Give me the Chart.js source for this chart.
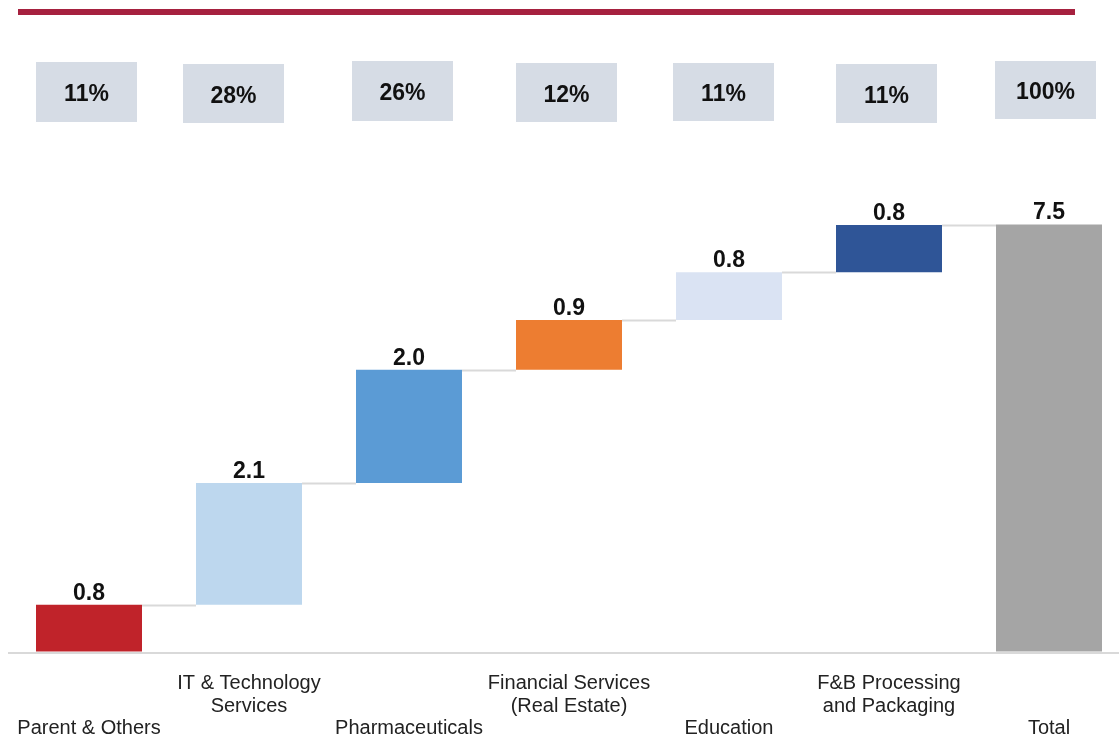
<!DOCTYPE html>
<html>
<head>
<meta charset="utf-8">
<script src="https://cdn.jsdelivr.net/npm/chart.js@4"></script>
<style>
  html, body { margin: 0; padding: 0; background: #fff; overflow: hidden; }
  #wrap { position: relative; width: 1119px; height: 738px; }
</style>
</head>
<body>
<div id="wrap"><canvas id="chart"></canvas></div>
<script>
// categories, staggered onto three label lines like the original
const categories = [
    ['', '', 'Parent & Others'],
    ['IT & Technology', 'Services', ''],
    ['', '', 'Pharmaceuticals'],
    ['Financial Services', '(Real Estate)', ''],
    ['', '', 'Education'],
    ['F&B Processing', 'and Packaging', ''],
    ['', '', 'Total']
];
// step values (last one is the total)
const stepValues = [0.82, 2.14, 1.99, 0.87, 0.84, 0.83];
const totalValue = 7.5;
const shares = ['11%', '28%', '26%', '12%', '11%', '11%', '100%'];

const barColors = ['#c0232a', '#bdd7ee', '#5b9bd5', '#ed7d31', '#dae3f3', '#2f5597', '#a5a5a5'];

// share box placement (px shift from category centre, top edge, height)
const boxShift = [-2.5, -15.5, -6.5, -2.5, -5.5, -2.5, -3.5];
const boxTop = [62, 64, 61, 63, 63, 64, 61];
const boxHeight = [60, 59, 60, 59, 58, 59, 58];

// build floating bars from running total
let running = 0;
const floating = stepValues.map(v => {
    const seg = [running, running + v];
    running += v;
    return seg;
});
floating.push([0, totalValue]);
const shownValues = stepValues.map(v => v.toFixed(1)).concat([totalValue.toFixed(1)]);

const FONT = '"Liberation Sans", Arial, sans-serif';

const decorations = {
    id: 'decorations',
    beforeDatasetsDraw(chart) {
        const ctx = chart.ctx;
        const meta = chart.getDatasetMeta(0);
        const y = chart.scales.y;
        ctx.save();
        // top rule
        ctx.fillStyle = '#a6213f';
        ctx.fillRect(18, 9, 1057, 6);
        // baseline
        ctx.fillStyle = '#d9d9d9';
        const y0 = Math.round(y.getPixelForValue(0));
        ctx.fillRect(8, y0, chart.width - 8, 2);
        // connectors
        ctx.strokeStyle = '#d9d9d9';
        ctx.lineWidth = 2;
        for (let i = 0; i < meta.data.length - 1; i++) {
            const a = meta.data[i], b = meta.data[i + 1];
            const ly = Math.round(y.getPixelForValue(floating[i][1])) + 0.5;
            ctx.beginPath();
            ctx.moveTo(a.x + a.width / 2, ly);
            ctx.lineTo(b.x - b.width / 2, ly);
            ctx.stroke();
        }
        ctx.restore();
    },
    afterDatasetsDraw(chart) {
        const ctx = chart.ctx;
        const meta = chart.getDatasetMeta(0);
        const y = chart.scales.y;
        ctx.save();
        ctx.font = 'bold 23px ' + FONT;
        ctx.textAlign = 'center';
        ctx.textBaseline = 'alphabetic';
        ctx.fillStyle = '#111';
        // value labels
        meta.data.forEach((bar, i) => {
            const top = y.getPixelForValue(floating[i][1]);
            ctx.fillText(shownValues[i], bar.x, top - 5);
        });
        // share boxes
        meta.data.forEach((bar, i) => {
            const cx = bar.x + boxShift[i];
            ctx.fillStyle = '#d6dce5';
            ctx.fillRect(cx - 50.5, boxTop[i], 101, boxHeight[i]);
            ctx.fillStyle = '#111';
            ctx.fillText(shares[i], cx, boxTop[i] + boxHeight[i] / 2 + 9);
        });
        ctx.restore();
    }
};

new Chart(document.getElementById('chart'), {
    type: 'bar',
    data: {
        labels: categories,
        datasets: [{
            data: floating,
            backgroundColor: barColors,
            borderWidth: 0,
            clip: false,
            categoryPercentage: 1,
            barPercentage: 0.6625
        }]
    },
    options: {
        responsive: true,
        maintainAspectRatio: false,
        animation: false,
        layout: { padding: { top: 196, left: 89, right: 70, bottom: 0 } },
        plugins: {
            legend: { display: false },
            tooltip: { enabled: false }
        },
        scales: {
            x: {
                offset: false,
                grid: { display: false },
                border: { display: false },
                afterFit: scale => { scale.height -= 15; },
                ticks: {
                    color: '#222',
                    padding: 13,
                    maxRotation: 0,
                    autoSkip: false,
                    font: { family: FONT, size: 20, lineHeight: 1.125 }
                }
            },
            y: {
                display: false,
                min: 0,
                max: 8
            }
        }
    },
    plugins: [decorations]
});
</script>
</body>
</html>
